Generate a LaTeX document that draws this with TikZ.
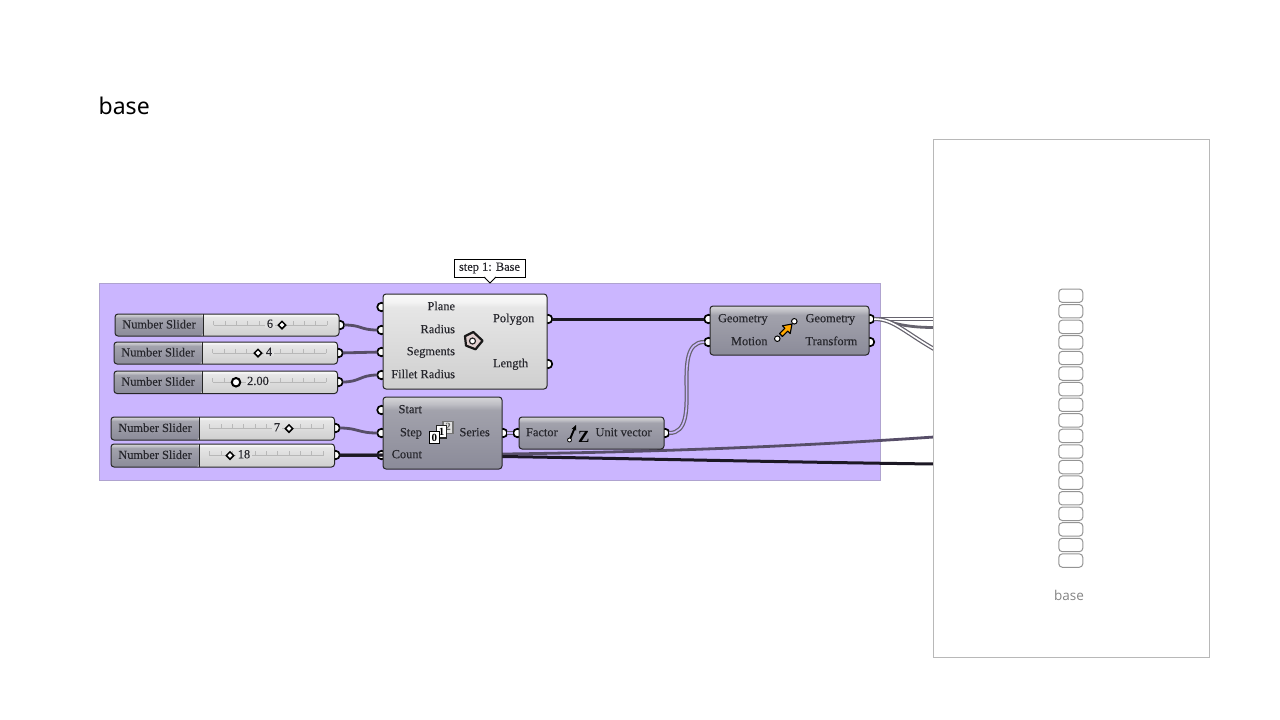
\documentclass[tikz,border=0pt]{standalone}
\usepackage{fontspec}
\setmainfont{Liberation Serif}
\newfontfamily\ghfont[FakeBold=0.18]{Liberation Serif}
\newfontfamily\titlefont{Noto Sans}
\newfontfamily\lightfont{Open Sans}
\usetikzlibrary{shapes.geometric,calc,arrows.meta}
\definecolor{panelfill}{HTML}{CBB6FF}
\definecolor{panelline}{HTML}{AFA3CF}
\definecolor{wiregrey}{HTML}{574E68}
\definecolor{wireout}{HTML}{66636E}
\definecolor{wireblack}{HTML}{1C1824}
\definecolor{inktxt}{HTML}{26262C}
\definecolor{iconorange}{HTML}{FFA800}
\definecolor{iconpink}{HTML}{E2D0D0}
\definecolor{da}{HTML}{8B8B99}
\definecolor{db}{HTML}{A2A2AC}
\definecolor{dc}{HTML}{BEBEC4}
\definecolor{dd}{HTML}{D6D6D8}
\definecolor{la}{HTML}{CFCFCF}
\definecolor{lb}{HTML}{E6E6E6}
\definecolor{lc}{HTML}{F4F4F4}
\definecolor{ld}{HTML}{F8F8F8}
\pgfdeclareverticalshading{gdark}{100bp}{color(0bp)=(da);color(25bp)=(da);color(66bp)=(db);color(70bp)=(dc);color(75bp)=(dd);color(100bp)=(dd)}
\pgfdeclareverticalshading{glight}{100bp}{color(0bp)=(la);color(25bp)=(la);color(68bp)=(lb);color(71bp)=(lc);color(75bp)=(ld);color(100bp)=(ld)}
\tikzset{
  compbase/.style={draw=black!85,line width=1pt,rounded corners=3pt,outer sep=0pt,inner sep=0pt,anchor=north west},
  compdark/.style={compbase,shading=gdark},
  complight/.style={compbase,shading=glight},
  txt/.style={inner sep=0pt,outer sep=0pt,text=inktxt,yshift=0.8pt,font=\ghfont\fontsize{12.4}{14}\selectfont},
  txtw/.style={txt,anchor=base west},
  txte/.style={txt,anchor=base east},
  port/.style={circle,draw=black,fill=white,line width=1.7pt,minimum size=8.5pt,inner sep=0pt,outer sep=0pt},
  wiresingle/.style={draw=wiregrey,line width=2.8pt},
  wireblackline/.style={draw=wireblack,line width=3pt},
  wiredouble/.style={draw=wireout,line width=1.25pt,double=#1,double distance=1.6pt},
  cell/.style={draw=black!42,line width=1pt,fill=white,rounded corners=3.5pt,minimum width=24pt,minimum height=13.4pt,inner sep=0pt,outer sep=0pt},
  handlediamond/.style={diamond,draw=black,fill=white,line width=1.5pt,minimum size=8pt,inner sep=0pt},
  handlecircle/.style={circle,draw=black,fill=white,line width=2pt,minimum size=8.5pt,inner sep=0pt},
  numbox/.style={draw=black,fill=white,line width=1.1pt,minimum width=10pt,minimum height=12.5pt,inner sep=0pt,font=\fontsize{11}{11}\bfseries\selectfont},
}
% id, x1, x2, divider, y1, y2, value x, handle x, handle style
\newcommand{\sliderbox}[9]{%
  \shade[shading=glight,rounded corners=3pt] (#2,#5) rectangle (#3,#6);
  \shade[shading=gdark,rounded corners=3pt] (#2,#5) rectangle (#4,#6);
  \draw[draw=black!85,line width=1pt,rounded corners=3pt] (#2,#5) rectangle (#3,#6);
  \draw[draw=black!85,line width=1pt] (#4,#5) -- (#4,#6);
  \node[txt] (#1name) at ({(#2+#4)/2},{(#5+#6)/2}) {Number Slider};
  \coordinate (#1t) at ({#4+10.5},{(#5+#6)/2});
  \draw[black!28,line width=0.7pt] (#1t) -- ++(113.5,0);
  \foreach \k in {0,...,10} {\draw[black!28,line width=0.7pt] ($(#1t)+(11.35*\k,0)$) -- ++(0,-4.5);}
  \node[txt,fill=black!12,inner xsep=1.5pt,inner ysep=0pt] (#1val) at (#7,{(#5+#6)/2-0.5}) {\sliderval};
  \node[#9] (#1hand) at (#8,{(#5+#6)/2}) {};
}
\begin{document}
\begin{tikzpicture}[x=1pt,y=-1pt]
\useasboundingbox (0,0) rectangle (1280,720);
\fill[white] (0,0) rectangle (1280,720);
\node[anchor=base west,inner sep=0pt,font=\titlefont\fontsize{23}{26}\selectfont,text=black] (title) at (98.5,114) {base};

% group panel
\node[draw=panelline,fill=panelfill,line width=1pt,anchor=north west,minimum width=781pt,minimum height=197.5pt,inner sep=0pt,outer sep=0pt] (panel) at (99.5,283) {};

% ports
\node[port] (s1o) at (340,325) {};
\node[port] (s2o) at (338.5,353) {};
\node[port] (s3o) at (338.5,382) {};
\node[port] (s4o) at (335.5,428) {};
\node[port] (s5o) at (335.5,455) {};
\node[port] (pPlane) at (381.5,307) {};
\node[port] (pRadius) at (381.5,330) {};
\node[port] (pSeg) at (381.5,352) {};
\node[port] (pFil) at (381.5,375) {};
\node[port] (pPoly) at (548,319) {};
\node[port] (pLen) at (548,364) {};
\node[port] (qStart) at (381.5,410) {};
\node[port] (qStep) at (381.5,433) {};
\node[port] (qCount) at (381.5,455) {};
\node[port] (qSer) at (503,433) {};
\node[port] (uFac) at (517.5,433) {};
\node[port] (uVec) at (665,433) {};
\node[port] (mGeo) at (708.5,319) {};
\node[port] (mMot) at (708.5,342) {};
\node[port] (mOut) at (870,319) {};
\node[port] (mTra) at (870,342) {};

% free wire ends at the panel edge
\coordinate (e1) at (934,319);
\coordinate (e2) at (934,327.5);
\coordinate (e3) at (934,349);
\coordinate (e4) at (934,437);
\coordinate (e5) at (934,464);

% wires
\draw[wiresingle] (s1o) .. controls (362,325) and (360,330) .. (pRadius);
\draw[wiresingle] (s2o) -- (pSeg);
\draw[wiresingle] (s3o) .. controls (360,382) and (360,375) .. (pFil);
\draw[wiresingle] (s4o) .. controls (358,428) and (358,433) .. (qStep);
\draw[wireblackline] (s5o) -- (qCount);
\draw[wiresingle] (s5o) .. controls (500,455) and (700,453) .. (e4);
\draw[wireblackline] (s5o) .. controls (500,455) and (700,461) .. (e5);
\draw[wireblackline] (pPoly) -- (mGeo);
\draw[wiredouble=panelfill] (qSer) -- (uFac);
\draw[wiredouble=panelfill] (uVec) .. controls (705,433) and (668,342) .. (mMot);
\draw[wiredouble=white] (mOut) -- (e1);
\draw[draw=wireout,line width=2.8pt] (mOut) .. controls (888,319) and (895,327.5) .. (e2);
\draw[wiredouble=white] (mOut) .. controls (893,319) and (903,331) .. (e3);

% number sliders
\def\sliderval{6}\sliderbox{sa}{115}{339}{203}{314}{336}{270}{282}{handlediamond}
\def\sliderval{4}\sliderbox{sb}{114}{337.5}{202}{342}{364}{269}{258}{handlediamond}
\def\sliderval{2.00}\sliderbox{sc}{114}{337.5}{202}{371}{393.5}{258}{236}{handlecircle}
\def\sliderval{7}\sliderbox{sd}{111}{334.5}{199}{417}{440}{277}{289}{handlediamond}
\def\sliderval{18}\sliderbox{se}{111}{334.5}{199}{444}{467}{244}{230}{handlediamond}

% polygon component
\node[complight,minimum width=164pt,minimum height=95pt] (polygon) at (383,294) {};
\node[txte] (lPlane) at (455,311) {Plane};
\node[txte] (lRadius) at (455,334) {Radius};
\node[txte] (lSeg) at (455,356) {Segments};
\node[txte] (lFil) at (455,379) {Fillet Radius};
\node[txtw] (lPoly) at (493,323) {Polygon};
\node[txtw] (lLen) at (493,368) {Length};
\draw[draw=black!90,line width=2.2pt,fill=iconpink,line join=round] (473.3,332) -- (482.6,340.7) -- (475.5,349.3) -- (466,345.6) -- (465,336.2) -- cycle;
\node[circle,draw=black!85,fill=white,line width=1.2pt,minimum size=6pt,inner sep=0pt] (iconPolyC) at (472.5,341) {};

% series component
\node[compdark,minimum width=119pt,minimum height=72pt] (series) at (383,397) {};
\node[txte] (lStart) at (422,414) {Start};
\node[txte] (lStep) at (422,437) {Step};
\node[txte] (lCount) at (422,459) {Count};
\node[txtw] (lSer) at (459.5,437) {Series};
\node[numbox,draw=black!55,fill=black!12,text=black!60] (b2) at (448,427.3) {2};
\node[numbox,draw=black!85] (b1) at (441.7,431.7) {1};
\node[numbox] (b0) at (434.3,437.5) {0};

% unit z component
\node[compdark,minimum width=145pt,minimum height=32pt] (unitz) at (519,417) {};
\node[txtw] (lFac) at (526,437) {Factor};
\node[txtw] (lVec) at (595.5,437) {Unit vector};
\draw[black,line width=1.9pt,-{Stealth[length=5.5pt,width=5pt]}] (570,439) -- (576,425);
\node[circle,draw=black,fill=white,line width=0.8pt,minimum size=4pt,inner sep=0pt] (iconZdot) at (569.5,440) {};
\node[inner sep=0pt,text=black,font=\fontsize{17}{17}\bfseries\selectfont] (iconZ) at (583.7,436.5) {Z};

% move component
\node[compdark,minimum width=159pt,minimum height=49pt] (move) at (710,306) {};
\node[txtw] (lGeo) at (718,323) {Geometry};
\node[txte] (lMot) at (767.5,346) {Motion};
\node[txtw] (lGeoO) at (805.5,323) {Geometry};
\node[txtw] (lTra) at (805.5,346) {Transform};
\draw[black,line width=1.1pt,fill=iconorange,line join=round] (782.4,336.4) -- (787.7,331.1) -- (790.2,333.6) -- (792,324) -- (782.4,325.8) -- (784.9,328.3) -- (779.6,333.6) -- cycle;
\node[circle,draw=black,fill=white,line width=1pt,minimum size=5.5pt,inner sep=0pt] (iconA) at (777.3,338.7) {};
\node[circle,draw=black,fill=white,line width=1pt,minimum size=5.5pt,inner sep=0pt] (iconB) at (794.3,321.3) {};

% tooltip
\node[draw=black,fill=white,line width=1pt,anchor=north west,minimum width=71pt,minimum height=18pt,inner sep=0pt,outer sep=0pt,txt,yshift=-0.8pt] (tip) at (454,259) {step 1: Base};
\fill[white] (484,276) -- (496,276) -- (490,283) -- cycle;
\draw[black,line width=1pt] (484,277) -- (490,283) -- (496,277);

% white panel on the right
\node[draw=black!28,fill=white,line width=1pt,anchor=north west,minimum width=276pt,minimum height=518pt,inner sep=0pt,outer sep=0pt] (sheet) at (933.5,139.5) {};
\foreach \i in {0,...,17} {
  \node[cell] (cell\i) at (1070.8,{295.7+15.58*\i}) {};
}
\node[inner sep=0pt,text=black!48,font=\lightfont\fontsize{13.5}{15}\selectfont,anchor=base] (sheetlabel) at (1069,600) {base};
\end{tikzpicture}
\end{document}
